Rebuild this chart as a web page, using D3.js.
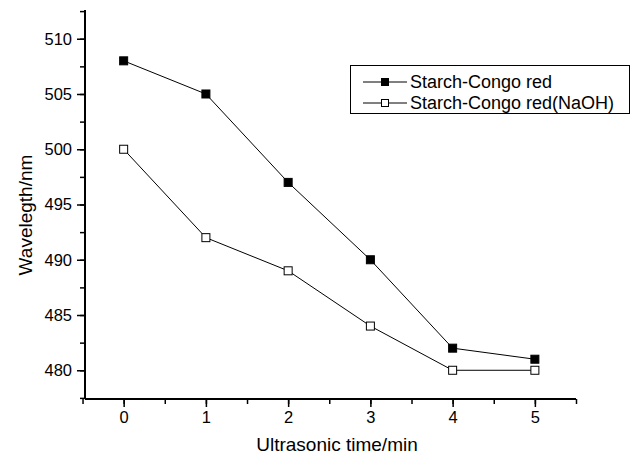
<!DOCTYPE html>
<html>
<head>
<meta charset="utf-8">
<script src="https://cdn.jsdelivr.net/npm/d3@7"></script>
<style>
  body { margin: 0; background: #fff; }
  svg text { font-family: "Liberation Sans", Arial, sans-serif; fill: #000; }
</style>
</head>
<body>
<div id="chart"></div>
<script>
// ultrasonic time (min)
var times = [0, 1, 2, 3, 4, 5];
var seriesNames = ["Starch-Congo red", "Starch-Congo red(NaOH)"];
var congoRed = [508, 505, 497, 490, 482, 481];
var congoRedNaOH = [500, 492, 489, 484, 480, 480];
var yTicks = [480, 485, 490, 495, 500, 505, 510];

var width = 636, height = 457;
var margin = {top: 10, right: 60, bottom: 58, left: 85};
var w = width - margin.left - margin.right,
    h = height - margin.top - margin.bottom;

var svg = d3.select("#chart").append("svg")
    .attr("width", width)
    .attr("height", height);

var g = svg.append("g").attr("transform", "translate(" + margin.left + "," + margin.top + ")");

var x = d3.scaleLinear().domain([-0.47, 5.5]).range([0, w]);
var y = d3.scaleLinear().domain([477.4, 512.6]).range([h, 0]);

// minor ticks first
g.append("g")
    .attr("transform", "translate(0," + h + ")")
    .call(d3.axisBottom(x).tickValues(d3.range(-0.5, 5.51, 0.5)).tickSize(5).tickFormat(""))
    .call(a => a.select(".domain").remove())
    .selectAll("line").attr("stroke-width", 1.5);

g.append("g")
    .call(d3.axisLeft(y).tickValues(d3.range(477.5, 512.6, 2.5)).tickSize(5).tickFormat(""))
    .call(a => a.select(".domain").remove())
    .selectAll("line").attr("stroke-width", 1.5);

var xAxis = g.append("g")
    .attr("transform", "translate(0," + h + ")")
    .call(d3.axisBottom(x).tickValues(times).tickSize(8).tickPadding(4).tickFormat(d3.format("d")));

var yAxis = g.append("g")
    .call(d3.axisLeft(y).tickValues(yTicks).tickSize(8).tickPadding(5).tickFormat(d3.format("d")));

[xAxis, yAxis].forEach(function(a) {
  a.select(".domain").remove();
  a.selectAll(".tick line").attr("stroke-width", 1.5);
  a.selectAll("text").attr("font-size", 16.5).attr("font-family", "Liberation Sans, Arial, sans-serif");
});

g.append("line").attr("x1", 0).attr("x2", w).attr("y1", h).attr("y2", h)
    .attr("stroke", "#000").attr("stroke-width", 2);
g.append("line").attr("x1", 0).attr("x2", 0).attr("y1", 0).attr("y2", h)
    .attr("stroke", "#000").attr("stroke-width", 2);

var line = d3.line()
    .x(function(d) { return x(d.t); })
    .y(function(d) { return y(d.v); });

var series = [
  {name: seriesNames[0], fill: "#000", values: times.map(function(t, i) { return {t: t, v: congoRed[i]}; })},
  {name: seriesNames[1], fill: "#fff", values: times.map(function(t, i) { return {t: t, v: congoRedNaOH[i]}; })}
];

var ms = 8;
series.forEach(function(s) {
  g.append("path")
      .attr("d", line(s.values))
      .attr("fill", "none")
      .attr("stroke", "#000")
      .attr("stroke-width", 1);
  g.selectAll(null)
    .data(s.values)
    .enter().append("rect")
      .attr("x", function(d) { return x(d.t) - ms / 2; })
      .attr("y", function(d) { return y(d.v) - ms / 2; })
      .attr("width", ms)
      .attr("height", ms)
      .attr("fill", s.fill)
      .attr("stroke", "#000")
      .attr("stroke-width", 1);
});

// axis titles
svg.append("text")
    .attr("x", 337)
    .attr("y", 451)
    .attr("text-anchor", "middle")
    .attr("font-size", 19)
    .text("Ultrasonic time/min");

svg.append("text")
    .attr("transform", "translate(32,215) rotate(-90)")
    .attr("text-anchor", "middle")
    .attr("font-size", 19)
    .text("Wavelegth/nm");

// legend
var legend = svg.append("g").attr("transform", "translate(350,65)");
legend.append("rect")
    .attr("x", 0.5).attr("y", 0.5)
    .attr("width", 279).attr("height", 48)
    .attr("fill", "#fff").attr("stroke", "#000").attr("stroke-width", 1);

series.forEach(function(s, i) {
  var ly = 17 + i * 21;
  legend.append("line")
      .attr("x1", 13).attr("x2", 57).attr("y1", ly).attr("y2", ly)
      .attr("stroke", "#000").attr("stroke-width", 1);
  legend.append("rect")
      .attr("x", 31.5).attr("y", ly - 3.5).attr("width", 7).attr("height", 7)
      .attr("fill", s.fill).attr("stroke", "#000").attr("stroke-width", 1);
  legend.append("text")
      .attr("x", 60).attr("y", ly + 6)
      .attr("font-size", 18)
      .text(s.name);
});
</script>
</body>
</html>
